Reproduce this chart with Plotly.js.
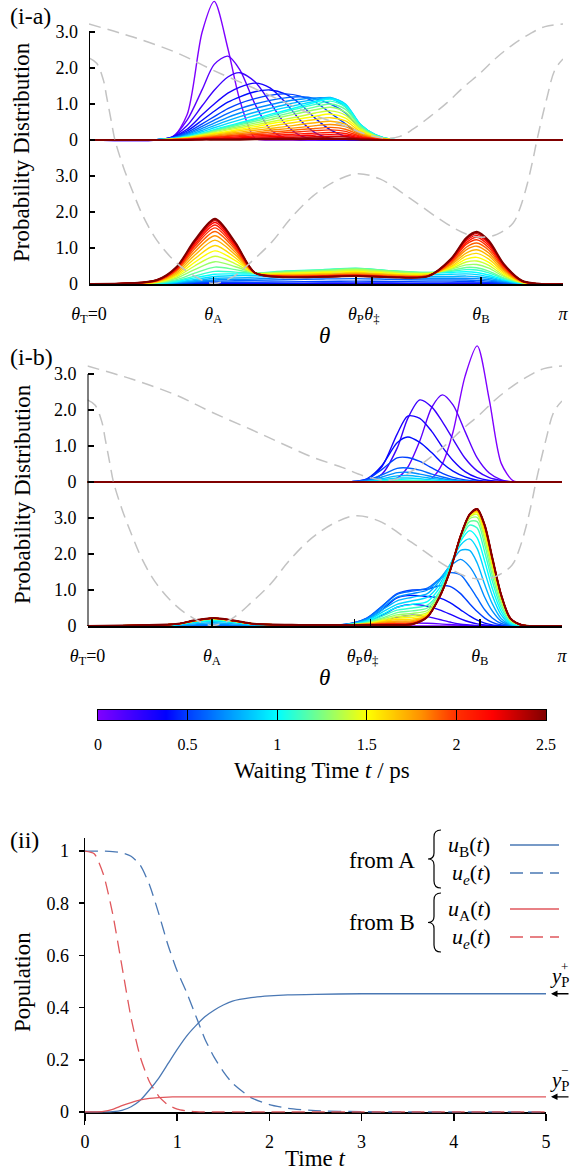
<!DOCTYPE html>
<html>
<head>
<meta charset="utf-8">
<script src="https://cdn.plot.ly/plotly-3.0.1.min.js"></script>
<style>
html,body{margin:0;padding:0;background:#fff;}
#plot{width:571px;height:1171px;}
</style>
</head>
<body>
<div id="plot"></div>
<script>
// ---------------- DATA ----------------
const waitTimes = [0,0.1,0.2,0.3,0.4,0.5,0.6,0.7,0.8,0.9,1.0,1.1,1.2,1.3,1.4,1.5,1.6,1.7,1.8,1.9,2.0,2.1,2.2,2.3,2.4,2.5];

const thetaTickVals = [0, 0.824, 1.769, 1.875, 2.598, 3.1416];
const thetaTickText = ['<i>θ</i><sub>T</sub>=0','<i>θ</i><sub>A</sub>','<i>θ</i><sub>P</sub>','<i>θ</i><sub>‡</sub>','<i>θ</i><sub>B</sub>','<i>π</i>'];
const probTickVals = [0,1,2,3,4,5,6,7];
const probTickText = ['0','1.0','2.0','3.0','0','1.0','2.0','3.0'];

// (i-a) upper distributions
const thetaIaUpper = [0,0.45,0.55,0.65,0.75,0.83,0.92,1.0,1.1,1.2,1.3,1.4,1.5,1.6,1.7,1.8,1.9,2.0,2.1,3.1416];
const probIaUpper = [
[0,0,0.05,0.7,3.0,3.85,2.55,1.1,0.05,0,0,0,0,0,0,0,0,0,0,0],
[0,0,0.08,0.55,1.4,2.1,2.33,1.95,1.0,0.3,0.06,0,0,0,0,0,0,0,0,0],
[0,0,0.08,0.4,0.95,1.38,1.75,1.87,1.62,1.05,0.45,0.12,0.02,0,0,0,0,0,0,0],
[0,0.01,0.08,0.3,0.7,1.0,1.3,1.47,1.58,1.45,1.05,0.55,0.2,0.05,0.01,0,0,0,0,0],
[0,0.01,0.07,0.25,0.55,0.8,1.05,1.2,1.34,1.39,1.28,1.0,0.6,0.28,0.1,0.02,0,0,0,0],
[0,0.01,0.06,0.21,0.45,0.65,0.87,1.02,1.15,1.24,1.28,1.22,1.05,0.75,0.45,0.15,0.04,0,0,0],
[0,0.01,0.05,0.18,0.38,0.55,0.74,0.87,1.0,1.1,1.17,1.2,1.15,1.0,0.75,0.3,0.09,0.01,0,0],
[0,0.01,0.05,0.15,0.32,0.47,0.63,0.75,0.88,0.98,1.07,1.13,1.17,1.15,0.92,0.38,0.12,0.01,0,0],
[0,0.01,0.04,0.13,0.27,0.4,0.54,0.65,0.77,0.88,0.98,1.06,1.13,1.18,0.98,0.42,0.14,0.02,0,0],
[0,0.01,0.04,0.11,0.23,0.34,0.46,0.56,0.68,0.8,0.9,0.99,1.08,1.17,1.0,0.43,0.14,0.02,0,0],
[0,0.01,0.03,0.09,0.19,0.29,0.39,0.48,0.59,0.71,0.82,0.93,1.05,1.14,0.97,0.42,0.14,0.02,0,0],
[0,0.01,0.03,0.09,0.18,0.27,0.37,0.45,0.56,0.67,0.78,0.89,0.99,1.08,0.92,0.4,0.13,0.02,0,0],
[0,0.01,0.03,0.08,0.17,0.25,0.34,0.42,0.52,0.62,0.72,0.82,0.92,1.0,0.85,0.37,0.12,0.02,0,0],
[0,0,0.03,0.07,0.15,0.23,0.31,0.38,0.47,0.56,0.66,0.75,0.84,0.91,0.77,0.34,0.11,0.01,0,0],
[0,0,0.02,0.06,0.14,0.2,0.28,0.34,0.42,0.5,0.58,0.66,0.75,0.81,0.69,0.3,0.1,0.01,0,0],
[0,0,0.02,0.06,0.12,0.18,0.24,0.3,0.37,0.45,0.52,0.59,0.66,0.72,0.61,0.27,0.09,0.01,0,0],
[0,0,0.02,0.05,0.11,0.16,0.21,0.26,0.32,0.38,0.45,0.51,0.57,0.62,0.53,0.23,0.07,0.01,0,0],
[0,0,0.02,0.04,0.09,0.13,0.18,0.22,0.27,0.32,0.37,0.43,0.48,0.52,0.44,0.19,0.06,0.01,0,0],
[0,0,0.01,0.03,0.07,0.11,0.15,0.18,0.22,0.27,0.31,0.35,0.4,0.43,0.37,0.16,0.05,0.01,0,0],
[0,0,0.01,0.03,0.06,0.09,0.12,0.15,0.18,0.22,0.25,0.29,0.32,0.35,0.3,0.13,0.04,0,0,0],
[0,0,0.01,0.02,0.05,0.07,0.1,0.12,0.15,0.17,0.2,0.23,0.26,0.28,0.24,0.1,0.03,0,0,0],
[0,0,0.01,0.02,0.04,0.05,0.07,0.09,0.11,0.13,0.15,0.17,0.19,0.21,0.18,0.08,0.03,0,0,0],
[0,0,0,0.01,0.03,0.04,0.05,0.06,0.08,0.09,0.11,0.12,0.14,0.15,0.13,0.06,0.02,0,0,0],
[0,0,0,0.01,0.02,0.03,0.03,0.04,0.05,0.06,0.07,0.08,0.09,0.1,0.09,0.04,0.01,0,0,0],
[0,0,0,0,0.01,0.02,0.02,0.03,0.03,0.04,0.04,0.05,0.06,0.06,0.05,0.02,0.01,0,0,0],
[0,0,0,0,0.01,0.01,0.01,0.01,0.02,0.02,0.02,0.02,0.03,0.03,0.03,0.01,0,0,0,0]
];

// (i-a) lower distributions
const thetaIaLower = [0,0.45,0.58,0.7,0.835,0.97,1.1,1.3,1.55,1.77,2.0,2.25,2.4,2.5,2.57,2.65,2.75,2.87,3.0,3.1416];
const probIaLower = [
[0,0,0,0,0,0,0,0,0,0,0,0,0,0,0,0,0,0,0,0],
[0,0,0,0,0,0,0,0,0,0,0,0,0,0,0,0,0,0,0,0],
[0,0,0,0.01,0.01,0.01,0,0,0,0,0,0,0,0,0,0,0,0,0,0],
[0,0,0.01,0.01,0.02,0.01,0,0,0,0,0,0,0,0.01,0.01,0.01,0,0,0,0],
[0,0,0.01,0.02,0.03,0.03,0.03,0.02,0.03,0.03,0.03,0.02,0.03,0.03,0.03,0.03,0.01,0,0,0],
[0,0,0.01,0.03,0.05,0.05,0.05,0.06,0.07,0.08,0.07,0.06,0.06,0.07,0.06,0.05,0.02,0,0,0],
[0,0,0.02,0.05,0.08,0.09,0.1,0.12,0.14,0.15,0.13,0.11,0.11,0.11,0.1,0.08,0.04,0.01,0,0],
[0,0.01,0.03,0.07,0.11,0.13,0.14,0.18,0.2,0.22,0.19,0.16,0.16,0.16,0.15,0.12,0.06,0.01,0,0],
[0,0.01,0.04,0.09,0.16,0.17,0.19,0.24,0.27,0.3,0.26,0.21,0.21,0.22,0.2,0.16,0.08,0.01,0,0],
[0,0.01,0.05,0.13,0.21,0.23,0.24,0.3,0.33,0.37,0.32,0.26,0.27,0.28,0.26,0.2,0.1,0.02,0,0],
[0,0.02,0.07,0.17,0.27,0.28,0.28,0.34,0.38,0.42,0.36,0.3,0.32,0.34,0.32,0.25,0.12,0.02,0,0],
[0,0.02,0.09,0.22,0.35,0.33,0.3,0.36,0.4,0.44,0.37,0.32,0.35,0.4,0.39,0.31,0.15,0.03,0,0],
[0,0.03,0.12,0.3,0.47,0.4,0.3,0.35,0.39,0.43,0.37,0.32,0.38,0.46,0.45,0.36,0.17,0.03,0,0],
[0,0.04,0.16,0.4,0.62,0.48,0.31,0.33,0.37,0.41,0.35,0.31,0.41,0.53,0.54,0.44,0.21,0.04,0,0],
[0,0.05,0.2,0.5,0.77,0.56,0.3,0.31,0.34,0.38,0.32,0.29,0.43,0.61,0.64,0.52,0.24,0.04,0,0],
[0,0.05,0.23,0.6,0.92,0.65,0.3,0.29,0.32,0.35,0.3,0.28,0.46,0.69,0.74,0.6,0.28,0.05,0,0],
[0,0.06,0.27,0.7,1.07,0.73,0.3,0.27,0.29,0.32,0.27,0.26,0.49,0.78,0.85,0.69,0.32,0.05,0,0],
[0,0.07,0.31,0.8,1.22,0.81,0.3,0.25,0.27,0.3,0.26,0.25,0.53,0.86,0.95,0.78,0.36,0.06,0,0],
[0,0.08,0.35,0.89,1.34,0.88,0.3,0.24,0.25,0.28,0.24,0.24,0.56,0.95,1.05,0.86,0.4,0.06,0,0],
[0,0.09,0.38,0.97,1.46,0.95,0.3,0.22,0.23,0.26,0.22,0.23,0.59,1.02,1.14,0.94,0.43,0.07,0,0],
[0,0.09,0.4,1.04,1.56,1.0,0.31,0.22,0.23,0.25,0.21,0.23,0.63,1.1,1.23,1.01,0.47,0.08,0,0],
[0,0.1,0.42,1.09,1.64,1.05,0.31,0.21,0.22,0.24,0.2,0.23,0.65,1.15,1.3,1.07,0.49,0.08,0,0],
[0,0.1,0.44,1.14,1.71,1.09,0.31,0.2,0.21,0.23,0.2,0.22,0.67,1.2,1.35,1.12,0.51,0.08,0,0],
[0,0.11,0.46,1.17,1.76,1.12,0.31,0.19,0.2,0.22,0.19,0.22,0.68,1.24,1.4,1.15,0.53,0.09,0,0],
[0,0.11,0.46,1.19,1.79,1.14,0.31,0.19,0.2,0.22,0.19,0.22,0.7,1.26,1.43,1.18,0.54,0.09,0,0],
[0,0.11,0.47,1.21,1.81,1.15,0.31,0.19,0.2,0.22,0.19,0.22,0.7,1.28,1.45,1.2,0.55,0.09,0,0]
];

// (i-b) upper distributions
const thetaIbUpper = [0,1.6,1.75,1.85,1.95,2.05,2.12,2.2,2.28,2.35,2.42,2.5,2.58,2.66,2.74,2.82,2.9,3.1416];
const probIbUpper = [
[0,0,0,0,0,0,0,0.01,0.11,0.51,1.39,2.94,3.78,2.29,0.51,0.03,0,0],
[0,0,0,0,0.01,0.11,0.41,1.14,2.08,2.42,2.14,1.4,0.67,0.25,0.06,0,0,0],
[0,0,0,0.03,0.22,0.94,1.76,2.28,2.08,1.67,1.19,0.66,0.31,0.12,0.04,0,0,0],
[0,0,0,0.06,0.43,1.33,1.83,1.77,1.4,0.97,0.6,0.29,0.12,0.04,0.01,0,0,0],
[0,0,0.01,0.09,0.46,1.09,1.25,1.1,0.81,0.52,0.3,0.14,0.05,0.02,0,0,0,0],
[0,0,0.01,0.08,0.35,0.67,0.68,0.57,0.39,0.24,0.13,0.06,0.02,0,0,0,0,0],
[0,0,0.01,0.05,0.2,0.38,0.39,0.33,0.22,0.14,0.07,0.03,0.01,0,0,0,0,0],
[0,0,0,0.03,0.14,0.26,0.27,0.22,0.15,0.09,0.05,0.02,0.01,0,0,0,0,0],
[0,0,0,0.02,0.09,0.17,0.18,0.15,0.1,0.06,0.03,0.02,0,0,0,0,0,0],
[0,0,0,0.01,0.06,0.11,0.11,0.09,0.06,0.04,0.02,0.01,0,0,0,0,0,0],
[0,0,0,0.01,0.03,0.06,0.06,0.05,0.03,0.02,0.01,0,0,0,0,0,0,0],
[0,0,0,0,0.02,0.03,0.035,0.03,0.02,0.01,0.01,0,0,0,0,0,0,0],
[0,0,0,0,0.01,0.02,0.02,0.02,0.01,0.01,0,0,0,0,0,0,0,0],
[0,0,0,0,0.01,0.01,0.01,0.01,0.01,0,0,0,0,0,0,0,0,0],
[0,0,0,0,0,0,0,0,0,0,0,0,0,0,0,0,0,0],
[0,0,0,0,0,0,0,0,0,0,0,0,0,0,0,0,0,0],
[0,0,0,0,0,0,0,0,0,0,0,0,0,0,0,0,0,0],
[0,0,0,0,0,0,0,0,0,0,0,0,0,0,0,0,0,0],
[0,0,0,0,0,0,0,0,0,0,0,0,0,0,0,0,0,0],
[0,0,0,0,0,0,0,0,0,0,0,0,0,0,0,0,0,0],
[0,0,0,0,0,0,0,0,0,0,0,0,0,0,0,0,0,0],
[0,0,0,0,0,0,0,0,0,0,0,0,0,0,0,0,0,0],
[0,0,0,0,0,0,0,0,0,0,0,0,0,0,0,0,0,0],
[0,0,0,0,0,0,0,0,0,0,0,0,0,0,0,0,0,0],
[0,0,0,0,0,0,0,0,0,0,0,0,0,0,0,0,0,0],
[0,0,0,0,0,0,0,0,0,0,0,0,0,0,0,0,0,0]
];

// (i-b) lower distributions
const thetaIbLower = [0,0.6,0.7,0.835,0.97,1.1,1.4,1.7,1.85,1.95,2.05,2.15,2.25,2.33,2.4,2.47,2.53,2.58,2.63,2.68,2.74,2.8,2.88,3.0,3.1416];
const probIbLower = [
[0,0,0,0,0,0,0,0,0,0,0,0,0,0,0,0,0,0,0,0,0,0,0,0,0],
[0,0,0,0,0,0,0,0,0.01,0.03,0.05,0.08,0.075,0.06,0.04,0.02,0.01,0,0,0,0,0,0,0,0],
[0,0,0,0,0,0,0,0.01,0.05,0.13,0.24,0.3,0.26,0.18,0.11,0.05,0.03,0.01,0,0,0,0,0,0,0],
[0,0,0,0,0,0,0,0.02,0.12,0.3,0.52,0.6,0.55,0.45,0.33,0.2,0.11,0.06,0.03,0.01,0,0,0,0,0],
[0,0,0,0,0,0,0.01,0.03,0.18,0.45,0.78,0.85,0.82,0.78,0.65,0.45,0.28,0.16,0.08,0.03,0.01,0,0,0,0],
[0,0,0,0,0,0,0.01,0.04,0.22,0.55,0.9,1.0,1.02,1.12,1.1,0.9,0.62,0.4,0.22,0.1,0.03,0.01,0,0,0],
[0,0.01,0.01,0.02,0.01,0.01,0.01,0.04,0.22,0.55,0.88,0.97,1.05,1.3,1.48,1.42,1.1,0.78,0.45,0.22,0.07,0.02,0,0,0],
[0,0.01,0.03,0.05,0.03,0.01,0.02,0.04,0.2,0.5,0.8,0.9,1.0,1.3,1.65,1.85,1.65,1.3,0.8,0.42,0.13,0.03,0,0,0],
[0,0.03,0.06,0.09,0.06,0.03,0.02,0.03,0.17,0.44,0.7,0.8,0.9,1.25,1.7,2.1,2.1,1.75,1.15,0.62,0.2,0.04,0,0,0],
[0,0.04,0.09,0.13,0.09,0.04,0.02,0.03,0.15,0.38,0.6,0.7,0.8,1.15,1.7,2.25,2.42,2.15,1.5,0.85,0.3,0.06,0.01,0,0],
[0,0.05,0.11,0.16,0.11,0.05,0.03,0.03,0.13,0.32,0.52,0.6,0.68,1.05,1.65,2.35,2.65,2.45,1.8,1.05,0.4,0.08,0.01,0,0],
[0,0.05,0.12,0.18,0.12,0.05,0.03,0.03,0.11,0.27,0.44,0.5,0.58,0.95,1.6,2.4,2.8,2.72,2.05,1.25,0.5,0.11,0.01,0,0],
[0,0.06,0.13,0.19,0.13,0.06,0.03,0.03,0.09,0.22,0.37,0.42,0.5,0.9,1.55,2.45,2.9,2.9,2.25,1.4,0.6,0.14,0.02,0,0],
[0,0.06,0.13,0.2,0.13,0.06,0.03,0.03,0.08,0.19,0.31,0.35,0.43,0.85,1.55,2.47,2.98,3.02,2.4,1.55,0.68,0.16,0.02,0,0],
[0,0.06,0.14,0.205,0.14,0.06,0.03,0.03,0.07,0.16,0.26,0.29,0.37,0.82,1.54,2.48,3.03,3.1,2.52,1.65,0.74,0.18,0.02,0,0],
[0,0.06,0.14,0.21,0.14,0.06,0.03,0.03,0.06,0.14,0.22,0.24,0.33,0.8,1.54,2.49,3.06,3.15,2.6,1.73,0.78,0.19,0.02,0,0],
[0,0.06,0.14,0.215,0.14,0.06,0.03,0.03,0.05,0.12,0.18,0.19,0.3,0.8,1.54,2.5,3.08,3.18,2.67,1.78,0.8,0.2,0.02,0,0],
[0,0.06,0.14,0.215,0.14,0.06,0.03,0.03,0.05,0.1,0.14,0.15,0.28,0.8,1.53,2.5,3.09,3.2,2.72,1.82,0.82,0.2,0.02,0,0],
[0,0.06,0.14,0.215,0.14,0.06,0.03,0.03,0.04,0.08,0.11,0.12,0.27,0.8,1.53,2.5,3.1,3.22,2.75,1.85,0.83,0.21,0.02,0,0],
[0,0.06,0.14,0.215,0.14,0.06,0.03,0.03,0.04,0.06,0.08,0.09,0.26,0.8,1.53,2.5,3.1,3.23,2.77,1.87,0.84,0.21,0.02,0,0],
[0,0.06,0.15,0.22,0.15,0.06,0.03,0.03,0.04,0.05,0.06,0.07,0.26,0.8,1.53,2.5,3.1,3.24,2.78,1.88,0.85,0.21,0.02,0,0],
[0,0.06,0.15,0.22,0.15,0.06,0.03,0.03,0.03,0.04,0.05,0.06,0.25,0.8,1.53,2.5,3.1,3.24,2.79,1.89,0.85,0.21,0.02,0,0],
[0,0.06,0.15,0.22,0.15,0.06,0.03,0.03,0.03,0.04,0.04,0.05,0.25,0.8,1.53,2.5,3.1,3.25,2.8,1.9,0.85,0.21,0.02,0,0],
[0,0.06,0.15,0.22,0.15,0.06,0.03,0.03,0.03,0.03,0.03,0.05,0.25,0.8,1.53,2.5,3.1,3.25,2.8,1.9,0.85,0.21,0.02,0,0],
[0,0.06,0.15,0.22,0.15,0.06,0.03,0.03,0.03,0.03,0.03,0.05,0.25,0.8,1.53,2.5,3.1,3.25,2.8,1.9,0.85,0.21,0.02,0,0],
[0,0.06,0.15,0.22,0.15,0.06,0.03,0.03,0.03,0.03,0.03,0.05,0.25,0.8,1.53,2.5,3.1,3.25,2.8,1.9,0.85,0.21,0.02,0,0]
];

// grey dashed potential curves (same in both panels)
const potWideTheta = [0,0.292,0.583,0.822,1.087,1.286,1.484,1.69,1.829,1.962,2.061,2.147,2.26,2.372,2.478,2.591,2.704,2.81,2.922,3.022,3.1416];
const potWideVal   = [7.22,6.86,6.42,5.94,5.45,5.07,4.7,4.4,4.17,4.05,4.1,4.3,4.65,5.03,5.45,5.85,6.3,6.65,6.95,7.15,7.22];
const potSteepTheta = [0,0.051,0.095,0.117,0.15,0.172,0.227,0.294,0.36,0.449,0.559,0.669,0.822,0.954,1.087,1.219,1.332,1.484,1.63,1.769,1.928,2.147,2.372,2.505,2.604,2.704,2.81,2.856,2.903,2.942,2.969,3.035,3.088,3.1416];
const potSteepVal   = [6.28,6.13,5.67,5.2,4.47,4.0,3.26,2.52,1.87,1.22,0.67,0.3,0.02,0.2,0.66,1.2,1.8,2.44,2.85,3.06,2.92,2.32,1.67,1.38,1.3,1.38,1.69,2.1,2.75,3.45,4.0,5.17,5.95,6.25];

// colour bar
const cbTickVals = [0,0.5,1,1.5,2,2.5];
const cbTickText = ['0','0.5','1','1.5','2','2.5'];

// (ii) populations
const popTime = [0,0.1,0.2,0.3,0.4,0.5,0.6,0.7,0.8,0.9,1.0,1.1,1.2,1.3,1.4,1.5,1.6,1.8,2.0,2.2,2.5,3.0,3.5,4.0,4.5,5.0];
const popUB_fromA = [0,0,0,0.001,0.006,0.02,0.045,0.085,0.13,0.185,0.24,0.29,0.33,0.365,0.39,0.41,0.425,0.438,0.445,0.449,0.451,0.453,0.453,0.453,0.453,0.453];
const popUe_fromA = [1,1,1,0.998,0.993,0.98,0.945,0.87,0.76,0.64,0.54,0.46,0.37,0.28,0.21,0.155,0.11,0.055,0.028,0.014,0.005,0.001,0,0,0,0];
const popUA_fromB = [0,0,0.002,0.01,0.024,0.036,0.046,0.052,0.055,0.057,0.058,0.058,0.058,0.058,0.058,0.058,0.058,0.058,0.058,0.058,0.058,0.058,0.058,0.058,0.058,0.058];
const popUe_fromB = [1,0.99,0.91,0.76,0.56,0.36,0.21,0.115,0.06,0.027,0.011,0.004,0.001,0,0,0,0,0,0,0,0,0,0,0,0,0];
const yPlevels = [0.453, 0.058];
const timeTickVals = [0,1,2,3,4,5];
const timeTickText = ['0','1','2','3','4','5'];
const popTickVals = [0,0.2,0.4,0.6,0.8,1];
const popTickText = ['0','0.2','0.4','0.6','0.8','1'];

// ---------------- STYLE / LAYOUT ----------------
const W = 571, H = 1171;
const FONT = 'Liberation Serif';
const px = x => x / W;
const py = y => 1 - y / H;
const upperOffset = 4;
const unitPx = 36;
const tMax = 2.5;
const BLUE = '#4a78b4', RED = '#e0575c', GREY = '#c3c3c3';
const fnt = (size) => ({size, family:FONT, color:'black'});

const jetStops = [[0,'#7f00ff'],[0.15,'#0000ff'],[0.2,'#0040ff'],[0.4,'#00ffff'],[0.6,'#ffff00'],[0.72,'#ff9000'],[0.8,'#ff3000'],[0.88,'#ff0000'],[1,'#800000']];
function hex2rgb(h){return [parseInt(h.slice(1,3),16),parseInt(h.slice(3,5),16),parseInt(h.slice(5,7),16)];}
function colorAt(f){
  f = Math.max(0, Math.min(1, f));
  for (let i = 1; i < jetStops.length; i++) {
    if (f <= jetStops[i][0]) {
      const a = jetStops[i-1], b = jetStops[i];
      const u = (f - a[0]) / (b[0] - a[0]);
      const ca = hex2rgb(a[1]), cb = hex2rgb(b[1]);
      const c = ca.map((v,k) => Math.round(v + (cb[k]-v)*u));
      return 'rgb(' + c.join(',') + ')';
    }
  }
  return jetStops[jetStops.length-1][1];
}

const traces = [];
function addPanel(xa, ya, thU, rowsU, thL, rowsL) {
  waitTimes.forEach((t, i) => {
    traces.push({type:'scatter', mode:'lines', x: thU, y: rowsU[i].map(v => v + upperOffset),
      xaxis: xa, yaxis: ya, hoverinfo:'skip',
      line:{color: colorAt(t/tMax), width: i === waitTimes.length-1 ? 2 : 1.4, shape:'spline', smoothing:0.8}});
  });
  waitTimes.forEach((t, i) => {
    traces.push({type:'scatter', mode:'lines', x: thL, y: rowsL[i],
      xaxis: xa, yaxis: ya, hoverinfo:'skip',
      line:{color: colorAt(t/tMax), width: i === waitTimes.length-1 ? 2 : 1.4, shape:'spline', smoothing:0.8}});
  });
  traces.push({type:'scatter', mode:'lines', x: potWideTheta, y: potWideVal, xaxis: xa, yaxis: ya, hoverinfo:'skip',
    line:{color: GREY, width:1.5, dash:'12px,7px', shape:'spline', smoothing:1}});
  traces.push({type:'scatter', mode:'lines', x: potSteepTheta, y: potSteepVal, xaxis: xa, yaxis: ya, hoverinfo:'skip',
    line:{color: GREY, width:1.5, dash:'12px,7px', shape:'spline', smoothing:1}});
}
addPanel('x', 'y', thetaIaUpper, probIaUpper, thetaIaLower, probIaLower);
addPanel('x2', 'y2', thetaIbUpper, probIbUpper, thetaIbLower, probIbLower);

// colour bar as heatmap
traces.push({type:'heatmap', x: waitTimes, y:[0], z:[waitTimes], zmin:0, zmax:tMax, zsmooth:'best',
  colorscale: jetStops, showscale:false, xaxis:'x3', yaxis:'y3', hoverinfo:'skip'});

// (ii)
const popDash = '13px,7px';
traces.push({type:'scatter', mode:'lines', x: popTime, y: popUe_fromA, xaxis:'x4', yaxis:'y4', hoverinfo:'skip', line:{color:BLUE, width:1.3, dash:popDash, shape:'spline', smoothing:0.6}});
traces.push({type:'scatter', mode:'lines', x: popTime, y: popUe_fromB, xaxis:'x4', yaxis:'y4', hoverinfo:'skip', line:{color:RED, width:1.3, dash:popDash, shape:'spline', smoothing:0.6}});
traces.push({type:'scatter', mode:'lines', x: popTime, y: popUB_fromA, xaxis:'x4', yaxis:'y4', hoverinfo:'skip', line:{color:BLUE, width:1.3, shape:'spline', smoothing:0.6}});
traces.push({type:'scatter', mode:'lines', x: popTime, y: popUA_fromB, xaxis:'x4', yaxis:'y4', hoverinfo:'skip', line:{color:RED, width:1.3, shape:'spline', smoothing:0.6}});

function thetaAxis(domain, anchor) {
  return {domain, anchor, range:[0, Math.PI], showline:true, linecolor:'black', linewidth:2,
    ticks:'inside', ticklen:7, tickwidth:1.5, tickcolor:'black', tickmode:'array',
    tickvals: thetaTickVals, ticktext: thetaTickText, tickangle:0, tickfont:fnt(18),
    ticklabelstandoff:12, showgrid:false, zeroline:false, fixedrange:true};
}
function probAxis(domain, anchor) {
  return {domain, anchor, range:[0, 284/unitPx], showline:false, ticks:'inside', ticklen:6, tickwidth:1.5,
    tickcolor:'black', tickmode:'array', tickvals: probTickVals, ticktext: probTickText, tickfont:fnt(18),
    ticklabelstandoff:10, showgrid:false, zeroline:false, fixedrange:true};
}

function bracePath(xr, xb, xt, y0, y1) {
  const ym = (y0 + y1) / 2;
  const P = (x, y) => px(x).toFixed(5) + ',' + py(y).toFixed(5);
  return 'M' + P(xr, y0) + ' Q' + P(xb, y0) + ' ' + P(xb, y0 + 7) +
         ' L' + P(xb, ym - 6) + ' Q' + P(xb, ym) + ' ' + P(xt, ym) +
         ' Q' + P(xb, ym) + ' ' + P(xb, ym + 6) +
         ' L' + P(xb, y1 - 7) + ' Q' + P(xb, y1) + ' ' + P(xr, y1);
}

const shapes = [
  {type:'line', xref:'x', yref:'y', x0:0, x1:0, y0:0, y1:7, line:{color:'black', width:2}},
  {type:'line', xref:'x2', yref:'y2', x0:0, x1:0, y0:0, y1:7, line:{color:'black', width:2}},
  {type:'path', xref:'paper', yref:'paper', path: bracePath(441, 434, 428, 830, 888), line:{color:'black', width:1.2}},
  {type:'path', xref:'paper', yref:'paper', path: bracePath(441, 434, 428, 893, 952), line:{color:'black', width:1.2}},
  {type:'line', xref:'paper', yref:'paper', x0:px(510), x1:px(559), y0:py(845), y1:py(845), line:{color:BLUE, width:1.3}},
  {type:'line', xref:'paper', yref:'paper', x0:px(510), x1:px(559), y0:py(873), y1:py(873), line:{color:BLUE, width:1.3, dash:popDash}},
  {type:'line', xref:'paper', yref:'paper', x0:px(510), x1:px(559), y0:py(909), y1:py(909), line:{color:RED, width:1.3}},
  {type:'line', xref:'paper', yref:'paper', x0:px(510), x1:px(559), y0:py(937), y1:py(937), line:{color:RED, width:1.3, dash:popDash}}
];

function txt(text, x, y, size, opts) {
  return Object.assign({text, xref:'paper', yref:'paper', x:px(x), y:py(y), showarrow:false,
    xanchor:'center', yanchor:'middle', font:fnt(size)}, opts || {});
}
const annotations = [
  txt('(i-a)', 8, 16, 24, {xanchor:'left'}),
  txt('(i-b)', 8, 357, 24, {xanchor:'left'}),
  txt('(ii)', 8, 840, 24, {xanchor:'left'}),
  txt('Probability Distribution', 22, 152, 23, {textangle:-90}),
  txt('Probability Distribution', 22, 494, 23, {textangle:-90}),
  txt('<i>θ</i>', 324, 335, 23),
  txt('<i>θ</i>', 324, 677, 23),
  txt('Waiting Time <i>t</i> / ps', 322, 770, 23),
  txt('Population', 22, 982, 23, {textangle:-90}),
  txt('Time <i>t</i>', 315, 1158, 23),
  txt('from A', 417, 860, 23, {xanchor:'right'}),
  txt('from B', 417, 922, 23, {xanchor:'right'}),
  txt('<i>u</i><sub>B</sub>(<i>t</i>)', 446, 846, 22, {xanchor:'left'}),
  txt('<i>u<sub>e</sub></i>(<i>t</i>)', 450, 874, 22, {xanchor:'left'}),
  txt('<i>u</i><sub>A</sub>(<i>t</i>)', 446, 910, 22, {xanchor:'left'}),
  txt('<i>u<sub>e</sub></i>(<i>t</i>)', 450, 938, 22, {xanchor:'left'}),
  txt('<i>y</i><sub>P</sub>', 548, 977, 21, {xanchor:'left'}),
  txt('+', 559, 966, 13, {xanchor:'left'}),
  txt('<i>y</i><sub>P</sub>', 548, 1081, 21, {xanchor:'left'}),
  txt('−', 559, 1070, 13, {xanchor:'left'}),
  {xref:'paper', yref:'y4', x:px(551), y:yPlevels[0], ax:19, ay:0, text:'', showarrow:true, arrowhead:2, arrowsize:1, arrowwidth:1.3, arrowcolor:'black'},
  {xref:'paper', yref:'y4', x:px(551), y:yPlevels[1], ax:19, ay:0, text:'', showarrow:true, arrowhead:2, arrowsize:1, arrowwidth:1.3, arrowcolor:'black'}
];

const layout = {
  width: W, height: H, margin:{l:0, r:0, t:0, b:0},
  paper_bgcolor:'white', plot_bgcolor:'white', showlegend:false,
  font:fnt(18),
  xaxis: thetaAxis([px(89), px(563)], 'y'),
  yaxis: probAxis([py(284), py(0)], 'x'),
  xaxis2: thetaAxis([px(87.5), px(562)], 'y2'),
  yaxis2: probAxis([py(626), py(342)], 'x2'),
  xaxis3: {domain:[px(98), px(546)], anchor:'y3', range:[0, tMax], showline:true, mirror:true, linecolor:'black', linewidth:1.2,
    ticks:'inside', ticklen:10, tickwidth:1.2, tickcolor:'black', tickmode:'array', tickvals:cbTickVals, ticktext:cbTickText,
    tickfont:fnt(16), ticklabelstandoff:10, showgrid:false, zeroline:false, fixedrange:true},
  yaxis3: {domain:[py(720), py(710)], anchor:'x3', range:[-0.5, 0.5], showline:true, mirror:true, linecolor:'black', linewidth:1.2,
    ticks:'', showticklabels:false, showgrid:false, zeroline:false, fixedrange:true},
  xaxis4: {domain:[px(85), px(546)], anchor:'free', position: py(1112), range:[0,5], showline:true, linecolor:'black', linewidth:1.5,
    layer:'below traces', ticks:'outside', ticklen:7, tickwidth:1.5, tickcolor:'black', tickmode:'array',
    tickvals: timeTickVals, ticktext: timeTickText, tickfont:fnt(18), ticklabelstandoff:6, showgrid:false, zeroline:false, fixedrange:true},
  yaxis4: {domain:[py(1125), py(838)], anchor:'x4', range:[-0.05, 1.05], showline:true, linecolor:'black', linewidth:1.5,
    ticks:'outside', ticklen:5, tickwidth:1.5, tickcolor:'black', tickmode:'array', tickvals: popTickVals, ticktext: popTickText,
    tickfont:fnt(18), ticklabelstandoff:6, showgrid:false, zeroline:false, fixedrange:true},
  shapes, annotations
};

Plotly.newPlot('plot', traces, layout, {staticPlot:true, displayModeBar:false});
</script>
</body>
</html>
